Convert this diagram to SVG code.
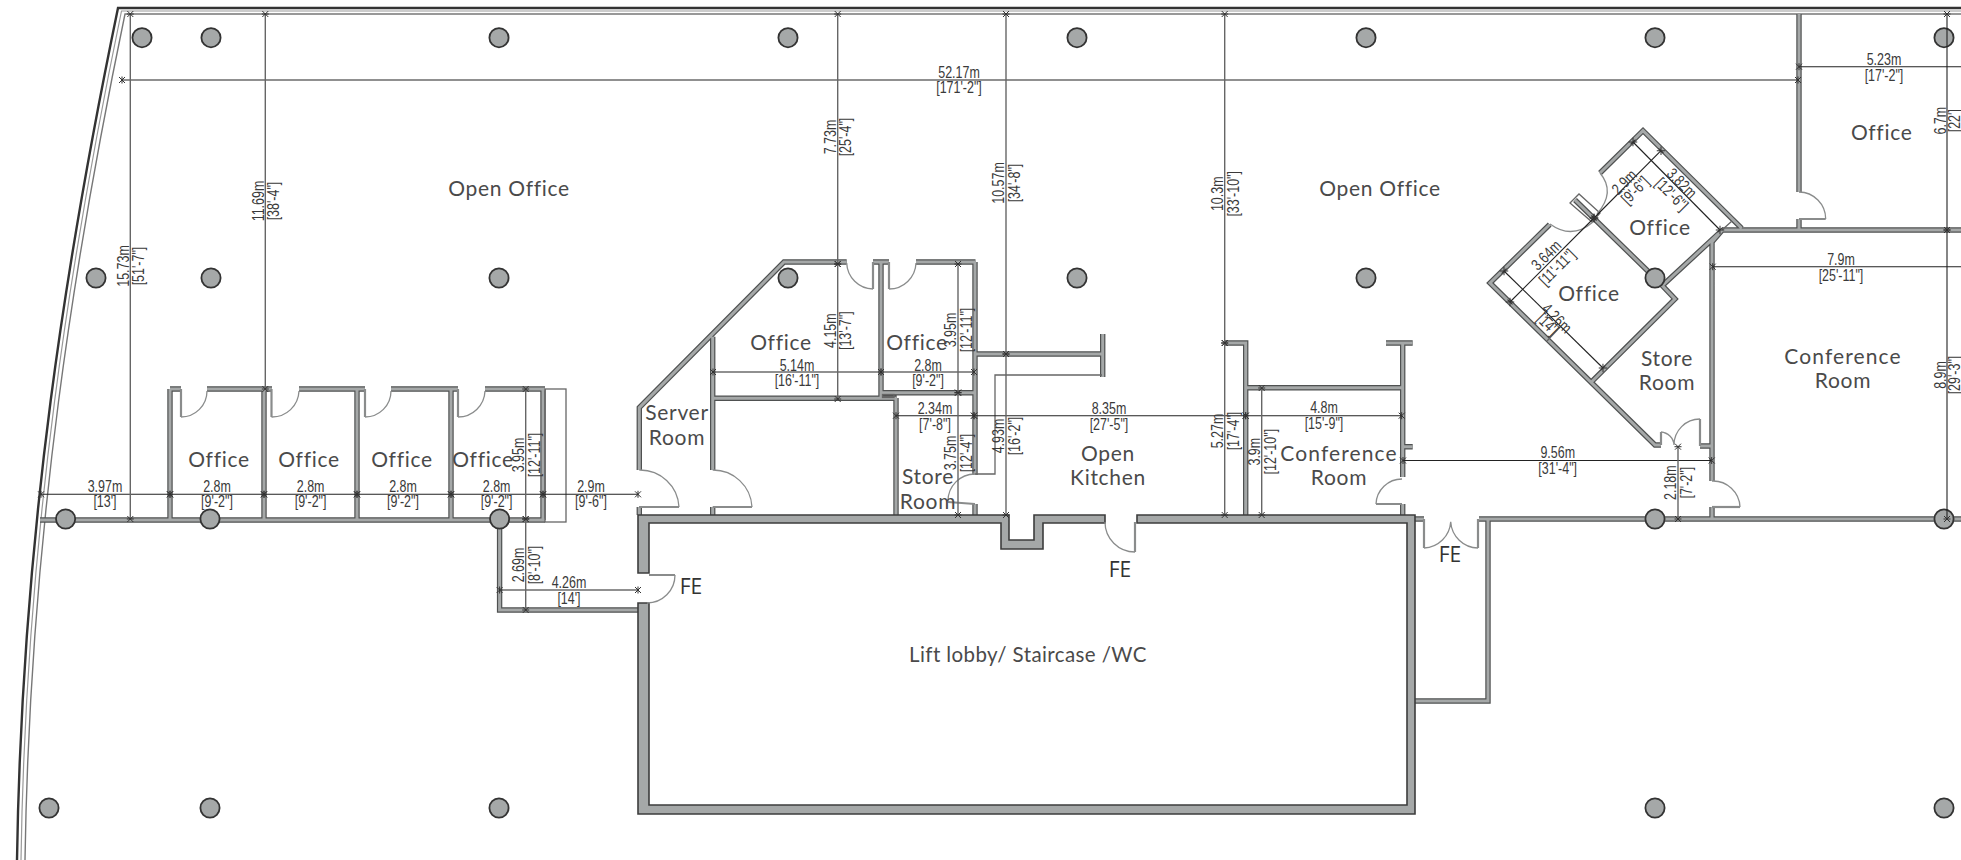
<svg xmlns="http://www.w3.org/2000/svg" width="1961" height="860" viewBox="0 0 1961 860">
<style>
.wo{fill:none;stroke:#4f5151;stroke-width:5.4;stroke-linejoin:miter}
.wi{fill:none;stroke:#a5a8a8;stroke-width:3;stroke-linejoin:miter}
.th{fill:#a5a8a8;stroke:#3c3c3c;stroke-width:1.6}
.col{fill:#a5a8a8;stroke:#333;stroke-width:1.8}
.dr{fill:none;stroke:#8a8c8c;stroke-width:1.3}
.lf{fill:none;stroke:#8a8c8c;stroke-width:2.2}
.tl{fill:none;stroke:#666;stroke-width:1.3}
.d{stroke:#222;stroke-width:1.1;fill:none;marker-start:url(#tk);marker-end:url(#tk)}
.g{stroke:#666;stroke-width:1.4;fill:none;marker-start:url(#tk);marker-end:url(#tk)}
.t{font-family:"Liberation Sans",Arial,sans-serif;font-size:16px;fill:#3a3a3a;text-anchor:middle;transform-box:fill-box;transform-origin:center;transform:scaleX(.78)}
.r{font-family:Lato,"Open Sans",sans-serif;font-size:21px;fill:#4a4a4a;text-anchor:middle;letter-spacing:.7px}
.c{letter-spacing:1.1px}
.l{font-size:20.5px;letter-spacing:.4px}
.f{font-family:"Open Sans",sans-serif;font-size:21px;fill:#333;text-anchor:middle}
</style>
<defs>
<marker id="tk" viewBox="-5 -5 10 10" markerUnits="userSpaceOnUse" markerWidth="10" markerHeight="10" orient="auto"><path d="M-3 -3L3 3M-3 3L3 -3M0 -3.5V3.5" stroke="#333" stroke-width="1" fill="none"/></marker>
<path id="w" d="M40 520H545M170 389V520M264 389V520M357 389V520M451 389V520M543 389V520M170 389H181M207 389H272M299 389H365M391 389H458M485 389H545M499.6 520V610H638
M846.7 262H784L639.3 407.7V470M639.3 507V515M712.7 336.7V470M712.7 507V515M873 262H889M916 262H975.5M975 262V475M975 504V515M881 262V396.7M712.7 398.3H896.7M896 398V515M881 392.7H975
M975 354H1102M1102.7 334V377
M1224 343H1245.7V515M1245.7 387.7H1402.7M1402.7 343V477M1386 343H1412.7M1402.7 446.7H1412.7M1402.7 504V515
M1415 519H1424M1479 519H1961M1488 519V701H1415
M1799 14V192M1799 219V230M1722 230H1961M1712 242V481M1712 507V519M1712 446H1700
M1600 173L1643 130.7L1741.7 228.3M1575 200L1655 278L1675 299L1591.7 381.7M1663 285L1721.7 230.7L1712 242M1549.7 224.5L1490 283L1655 445H1661"/>
</defs>

<g id="outer-wall" fill="none">
<path d="M1961 8H118C68 250 22 530 17 860" stroke="#333" stroke-width="2.4"/>
<path d="M1961 11H121.5C72 250 26 530 21 860" stroke="#999" stroke-width="1.2"/>
<path d="M1961 14H125C76 250 30 530 25 860" stroke="#777" stroke-width="1.4"/>
</g>

<g id="walls">
<use href="#w" class="wo"/>
<use href="#w" class="wi"/>
<path class="th" d="M638 515H1009V540H1034V515H1105V523H1043V549H1001V523H649V573H638Z"/>
<path class="th" d="M1137 515H1415V814H638V603H649V805H1407V523H1137Z"/>
<rect class="tl" x="545" y="389" width="21" height="133"/>
<path class="tl" d="M975 474H995V375H1102"/>
<rect class="tl" x="882.5" y="394.5" width="11.5" height="3" fill="#fff"/>
<path class="tl" d="M1570 203L1579 194L1600 213L1592 222ZM1722 230L1732 221"/>
</g>

<g id="doors">
<path class="lf" d="M181 389V417M271.5 389V417M365 389V417M458 389V417M873 262V289M889 262V289M639 507H679M712.7 507H752M1376 504H1402M948 502L975 504M1135 522V552M1424 519V548M1478 519V548M649 575H675M1825.7 219H1799M1700 446V419M1661 445V432"/>
<path class="dr" d="M181 417A26 26 0 0 0 207 391M271.5 417A27 27 0 0 0 299 391M365 417A26 26 0 0 0 391 391M458 417A27 27 0 0 0 485 391M873 289A27 27 0 0 1 846.7 263M889 289A27 27 0 0 0 916 263M639.3 470A39 39 0 0 1 679 507M712.7 470A39 39 0 0 1 752 507M975 474A27 27 0 0 0 948 501M1402 479A26 26 0 0 0 1376 504M1105 522A30 30 0 0 0 1135 552M1424 548A28 28 0 0 0 1450.7 521.7M1478 548A28 28 0 0 1 1450.7 521.7M675 575A28 28 0 0 1 647 603M1799 192A27 27 0 0 1 1825.7 219M1712 481A27 27 0 0 1 1740 507M1700 419A26 26 0 0 0 1674 445M1661 432A14 14 0 0 1 1674 445"/>
<path class="lf" d="M1712 507H1740"/>
<path class="dr" d="M1550 224Q1572 240 1593 222M1600 173Q1616 192 1597 214"/>
</g>

<g id="columns">
<circle class="col" cx="142" cy="37.7" r="9.6"/><circle class="col" cx="211" cy="37.7" r="9.6"/><circle class="col" cx="499" cy="37.7" r="9.6"/><circle class="col" cx="788" cy="37.7" r="9.6"/><circle class="col" cx="1077" cy="37.7" r="9.6"/><circle class="col" cx="1366" cy="37.7" r="9.6"/><circle class="col" cx="1655" cy="37.7" r="9.6"/><circle class="col" cx="1944" cy="37.7" r="9.6"/>
<circle class="col" cx="96" cy="278" r="9.6"/><circle class="col" cx="211" cy="278" r="9.6"/><circle class="col" cx="499" cy="278" r="9.6"/><circle class="col" cx="788" cy="278" r="9.6"/><circle class="col" cx="1077" cy="278" r="9.6"/><circle class="col" cx="1366" cy="278" r="9.6"/><circle class="col" cx="1655" cy="278" r="9.6"/>
<circle class="col" cx="65.6" cy="519" r="9.6"/><circle class="col" cx="210" cy="519" r="9.6"/><circle class="col" cx="499.6" cy="519" r="9.6"/><circle class="col" cx="1655" cy="519" r="9.6"/><circle class="col" cx="1944" cy="519" r="9.6"/>
<circle class="col" cx="49" cy="808" r="9.6"/><circle class="col" cx="210" cy="808" r="9.6"/><circle class="col" cx="499" cy="808" r="9.6"/><circle class="col" cx="1655" cy="808" r="9.6"/><circle class="col" cx="1944" cy="808" r="9.6"/>
</g>

<g id="dimension-lines">
<path class="d" d="M122 80H1798"/>
<path class="d" d="M1799 66.7H1975"/>
<path class="d" d="M1712.7 266.7H1975"/>
<path class="d" d="M41 494.3H170"/><path class="d" d="M170 494.3H264"/><path class="d" d="M264 494.3H357"/><path class="d" d="M357 494.3H451"/><path class="d" d="M451 494.3H543"/><path class="d" d="M543 494.3H638"/>
<path class="d" d="M499.6 590H638"/>
<path class="d" d="M713 372H881"/><path class="d" d="M881 372H974"/>
<path class="d" d="M896 415.7H974"/><path class="d" d="M974 415.7H1245.7"/><path class="d" d="M1245.7 415.7H1401.7"/>
<path class="d" d="M1403 460.5H1711.7"/>
<path class="g" d="M130.3 14V519"/><path class="g" d="M265.3 14V389"/><path class="g" d="M837.7 14V264"/><path class="g" d="M837.7 264V399"/>
<path class="g" d="M1006 14V354"/><path class="g" d="M1006 354V515"/><path class="g" d="M1224.7 14V343"/><path class="g" d="M1224.7 343V515"/><path class="g" d="M1261.7 388V515"/>
<path class="g" d="M525.7 389V519"/><path class="g" d="M525.7 519V610"/><path class="g" d="M958 264V392.7"/><path class="g" d="M958 392.7V515"/>
<path class="d" d="M1947 14V230"/><path class="d" d="M1947 230V519"/><path class="g" d="M1678 446.7V519"/>
<path class="d" d="M1594 218L1661 150.7"/><path class="d" d="M1633 142L1720 230"/><path class="d" d="M1594 218L1510 302"/><path class="d" d="M1504 271L1603 368"/>
<path class="tl" d="M1547 341L1560 327"/>
</g>

<g id="dimension-labels">
<text class="t" x="959" y="78">52.17m</text><text class="t" x="959" y="93">[171'-2"]</text>
<text class="t" x="1884" y="65.5">5.23m</text><text class="t" x="1884" y="81">[17'-2"]</text>
<text class="t" x="1841" y="265.5">7.9m</text><text class="t" x="1841" y="281">[25'-11"]</text>
<text class="t" x="105" y="492">3.97m</text><text class="t" x="105" y="507">[13']</text>
<text class="t" x="217" y="492">2.8m</text><text class="t" x="217" y="507">[9'-2"]</text>
<text class="t" x="310.6" y="492">2.8m</text><text class="t" x="310.6" y="507">[9'-2"]</text>
<text class="t" x="403" y="492">2.8m</text><text class="t" x="403" y="507">[9'-2"]</text>
<text class="t" x="496.6" y="492">2.8m</text><text class="t" x="496.6" y="507">[9'-2"]</text>
<text class="t" x="591" y="492">2.9m</text><text class="t" x="591" y="507">[9'-6"]</text>
<text class="t" x="569" y="588">4.26m</text><text class="t" x="569" y="604">[14']</text>
<text class="t" x="797" y="370.7">5.14m</text><text class="t" x="797" y="385.7">[16'-11"]</text>
<text class="t" x="928" y="370.7">2.8m</text><text class="t" x="928" y="385.7">[9'-2"]</text>
<text class="t" x="935" y="414">2.34m</text><text class="t" x="935" y="430">[7'-8"]</text>
<text class="t" x="1109" y="414">8.35m</text><text class="t" x="1109" y="430">[27'-5"]</text>
<text class="t" x="1324" y="413">4.8m</text><text class="t" x="1324" y="429">[15'-9"]</text>
<text class="t" x="1557.7" y="458">9.56m</text><text class="t" x="1557.7" y="474">[31'-4"]</text>
<g transform="translate(128.5 266) rotate(-90)"><text class="t">15.73m</text><text class="t" y="16">[51'-7"]</text></g>
<g transform="translate(263.5 201) rotate(-90)"><text class="t">11.69m</text><text class="t" y="16">[38'-4"]</text></g>
<g transform="translate(835.5 137) rotate(-90)"><text class="t">7.73m</text><text class="t" y="16">[25'-4"]</text></g>
<g transform="translate(835.5 330.7) rotate(-90)"><text class="t">4.15m</text><text class="t" y="16">[13'-7"]</text></g>
<g transform="translate(1004 183) rotate(-90)"><text class="t">10.57m</text><text class="t" y="16">[34'-8"]</text></g>
<g transform="translate(1004 436) rotate(-90)"><text class="t">4.93m</text><text class="t" y="16">[16'-2"]</text></g>
<g transform="translate(1222.7 193.8) rotate(-90)"><text class="t">10.3m</text><text class="t" y="16">[33'-10"]</text></g>
<g transform="translate(1222.7 431) rotate(-90)"><text class="t">5.27m</text><text class="t" y="16">[17'-4"]</text></g>
<g transform="translate(1259.7 451.7) rotate(-90)"><text class="t">3.9m</text><text class="t" y="16">[12'-10"]</text></g>
<g transform="translate(524 455) rotate(-90)"><text class="t">3.95m</text><text class="t" y="16">[12'-11"]</text></g>
<g transform="translate(524 565) rotate(-90)"><text class="t">2.69m</text><text class="t" y="16">[8'-10"]</text></g>
<g transform="translate(956 330) rotate(-90)"><text class="t">3.95m</text><text class="t" y="16">[12'-11"]</text></g>
<g transform="translate(956 453) rotate(-90)"><text class="t">3.75m</text><text class="t" y="16">[12'-4"]</text></g>
<g transform="translate(1945.5 120.7) rotate(-90)"><text class="t">6.7m</text><text class="t" y="15">[22']</text></g>
<g transform="translate(1945.5 375) rotate(-90)"><text class="t">8.9m</text><text class="t" y="15">[29'-3"]</text></g>
<g transform="translate(1676 482.7) rotate(-90)"><text class="t">2.18m</text><text class="t" y="16">[7'-2"]</text></g>
<g transform="translate(1628 186) rotate(-45)"><text class="t">2.9m</text></g><g transform="translate(1639 194) rotate(-45)"><text class="t">[9'-6"]</text></g>
<g transform="translate(1678 187) rotate(45)"><text class="t">3.82m</text></g><g transform="translate(1668 198) rotate(45)"><text class="t">[12'-6"]</text></g>
<g transform="translate(1550 259) rotate(-45)"><text class="t">3.64m</text></g><g transform="translate(1561 271) rotate(-45)"><text class="t">[11'-11"]</text></g>
<g transform="translate(1553 322) rotate(45)"><text class="t">4.26m</text></g><g transform="translate(1544 328) rotate(45)"><text class="t">[14']</text></g>
</g>

<g id="room-labels">
<text class="r" x="509" y="196">Open Office</text><text class="r" x="1380" y="196">Open Office</text>
<text class="r" x="219" y="467">Office</text><text class="r" x="309" y="467">Office</text><text class="r" x="402" y="467">Office</text><text class="r" x="483" y="467">Office</text>
<text class="r" x="781" y="350">Office</text><text class="r" x="917" y="350">Office</text>
<text class="r" x="677" y="420">Server</text><text class="r" x="677" y="445">Room</text>
<text class="r" x="928" y="484">Store</text><text class="r" x="928" y="509">Room</text>
<text class="r" x="1108" y="461">Open</text><text class="r" x="1108" y="485">Kitchen</text>
<text class="r c" x="1339" y="461">Conference</text><text class="r" x="1339" y="485">Room</text>
<text class="r" x="1660" y="235">Office</text><text class="r" x="1589" y="301">Office</text>
<text class="r" x="1667" y="366">Store</text><text class="r" x="1667" y="390">Room</text>
<text class="r c" x="1843" y="364">Conference</text><text class="r" x="1843" y="388">Room</text>
<text class="r" x="1881.7" y="140">Office</text>
<text class="r l" x="1028" y="662">Lift lobby/ Staircase /WC</text>
<text class="f" x="691" y="594">FE</text><text class="f" x="1120" y="577">FE</text><text class="f" x="1450" y="562">FE</text>
</g>
</svg>
